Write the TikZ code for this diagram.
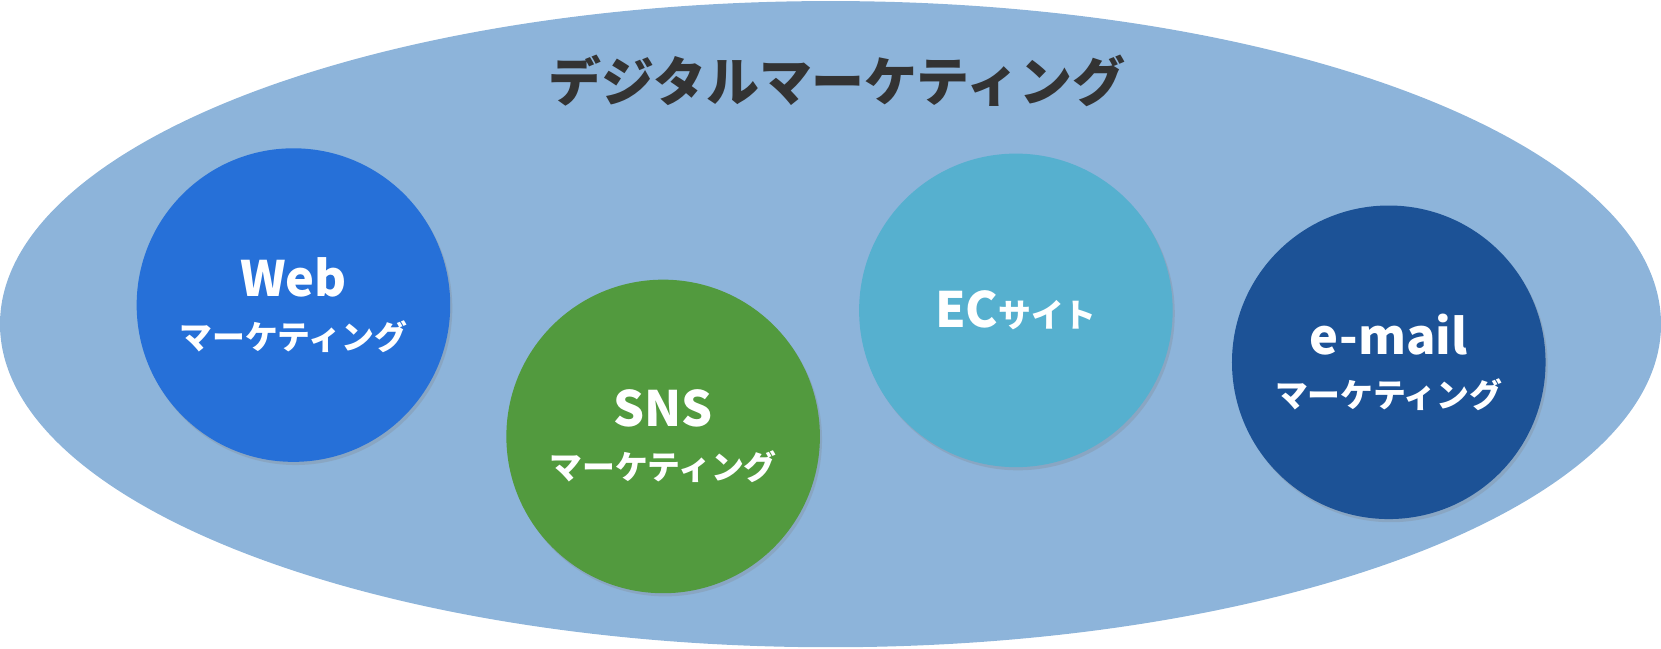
\documentclass[tikz,border=0pt]{standalone}
\usepackage{fontspec}
\setmainfont{Noto Sans CJK JP}
\usetikzlibrary{shadows}
\definecolor{ell}{HTML}{8DB4DA}
\definecolor{cweb}{HTML}{2670D8}
\definecolor{csns}{HTML}{529A3E}
\definecolor{cec}{HTML}{56B0CF}
\definecolor{cmail}{HTML}{1C5296}
\definecolor{ttl}{HTML}{333333}
\tikzset{bub/.style={circle,minimum size=296pt,inner sep=0pt,align=center,text=white,
  font=\bfseries\fontsize{31}{40}\selectfont,
  drop shadow={shadow xshift=2pt,shadow yshift=-3pt,opacity=0.25}}}
\newcommand{\bigtxt}[1]{{\fontsize{46}{52}\selectfont #1}}
\newcommand{\kat}[1]{{\fontsize{31}{40}\selectfont #1}}
\begin{document}
\begin{tikzpicture}[x=1pt,y=-1pt]
\useasboundingbox (0,0) rectangle (1568,612);
\fill[ell] (784,306) ellipse [x radius=784,y radius=305];
\node (title) at (790,76) [text=ttl,font=\bfseries\fontsize{50}{58}\selectfont] {デジタルマーケティング};
\node[bub,fill=cweb] (web) at (277,288) {\bigtxt{Web}\\[10pt]\kat{マーケティング}};
\node[bub,fill=csns] (sns) at (626,412) {\bigtxt{SNS}\\[10pt]\kat{マーケティング}};
\node[bub,fill=cec] (ec) at (959,293) {\bigtxt{EC}\kat{サイト}};
\node[bub,fill=cmail] (mail) at (1311,342) {\bigtxt{e-mail}\\[10pt]\kat{マーケティング}};
\end{tikzpicture}
\end{document}
